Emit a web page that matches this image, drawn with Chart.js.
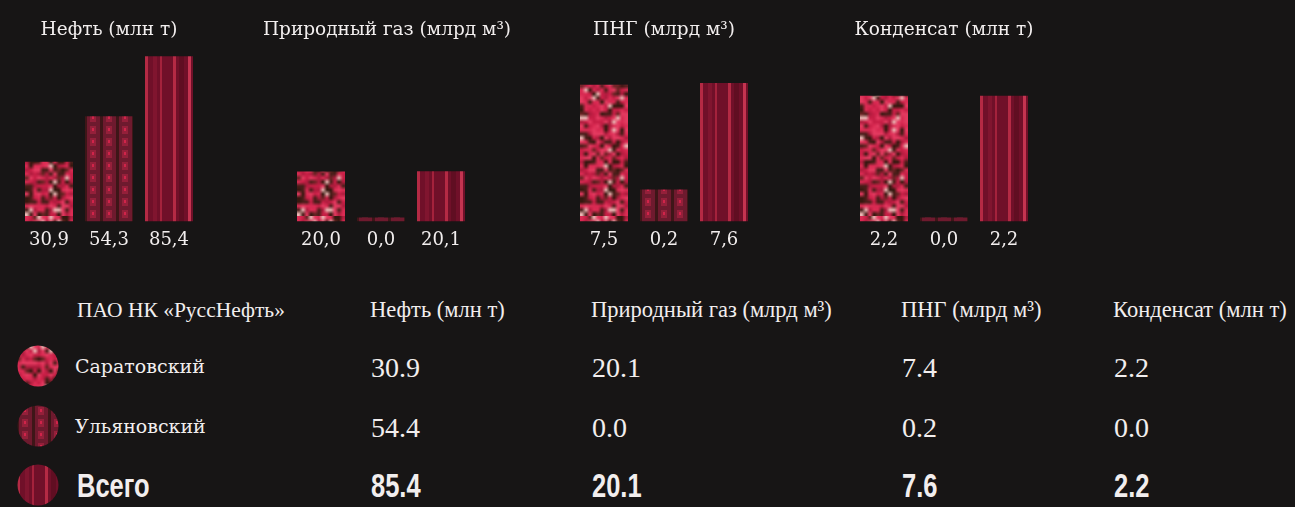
<!DOCTYPE html>
<html lang="ru">
  <head>
    <meta charset="UTF-8" />
    <title>РуссНефть — добыча</title>
    <script src="https://cdn.jsdelivr.net/npm/chart.js"></script>
    <style>
      html, body { margin: 0; padding: 0; }
      body {
        width: 1295px; height: 507px; overflow: hidden; position: relative;
        background: #171515; color: #f2eeee;
        font-family: "Liberation Serif", serif;
      }
      .box { position: absolute; top: 0; width: 300px; height: 260px; }
      .cell { position: absolute; white-space: nowrap; transform: translateY(-50%); transform-origin: 0 50%; }
      .head { font-size: 22.5px; }
      .company { font-size: 21.5px; }
      .name { font-family: "DejaVu Serif", serif; font-size: 19px; }
      .val { font-size: 28px; }
      .bold { font-family: "Liberation Sans", sans-serif; font-weight: bold; font-size: 34px;
              transform: translateY(-50%) scaleX(0.75); }
      canvas.dot { position: absolute; }
    </style>
  </head>
  <body>
    <div class="box" style="left:-41px"><canvas id="c0" width="300" height="260"></canvas></div>
    <div class="box" style="left:237px"><canvas id="c1" width="300" height="260"></canvas></div>
    <div class="box" style="left:514px"><canvas id="c2" width="300" height="260"></canvas></div>
    <div class="box" style="left:794px"><canvas id="c3" width="300" height="260"></canvas></div>
    <div id="table"></div>

    <script>
      // bar charts (values as printed under the bars)
      const titles = ["Нефть (млн т)", "Природный газ (млрд м³)", "ПНГ (млрд м³)", "Конденсат (млн т)"];
      const fields = ["Саратовский", "Ульяновский", "Всего"];
      const oil = [30.9, 54.3, 85.4];
      const gas = [20.0, 0.0, 20.1];
      const png = [7.5, 0.2, 7.6];
      const condensate = [2.2, 0.0, 2.2];
      const yMax = [88.5, 68.7, 9.4, 3.0];
      const minBar = [0, 4, 32, 4];

      // table below
      const tableCompany = "ПАО НК «РуссНефть»";
      const saratovRow = [30.9, 20.1, 7.4, 2.2];
      const ulyanovskRow = [54.4, 0.0, 0.2, 0.0];
      const totalRow = [85.4, 20.1, 7.6, 2.2];

      // --- textures ---
      function hash(x, y) {
        let h = (Math.imul(x, 374761393) + Math.imul(y, 668265263)) | 0;
        h = Math.imul(h ^ (h >>> 13), 1274126177);
        h ^= h >>> 16;
        return (h >>> 0) / 4294967296;
      }
      function tile(w, h, paint) {
        const c = document.createElement("canvas");
        c.width = w; c.height = h;
        paint(c.getContext("2d"), w, h);
        return c;
      }
      const blotch = tile(12, 44, (g) => {
        const cols = ["#dc2c54", "#c81f46", "#e43a60", "#b01c3e", "#d82a52", "#4a1e1a", "#34180f", "#6a2424", "#e9b8b4"];
        for (let y = 0; y < 44; y++)
          for (let x = 0; x < 12; x++) {
            const r = hash(x + 3, y + 7);
            let i = Math.floor(r * 8);
            if (r > 0.95) i = 8;
            g.fillStyle = cols[i];
            g.fillRect(x, y, 1, 1);
          }
      });
      const mottled = tile(48, 176, (g) => {
        g.imageSmoothingEnabled = true;
        g.drawImage(blotch, 0, 0, 48, 176);
      });
      const dotted = tile(16, 12, (g) => {
        g.fillStyle = "#6e1a2e"; g.fillRect(0, 0, 16, 12);
        g.fillStyle = "#3e1618"; g.fillRect(0, 0, 2, 12); g.fillRect(15, 0, 1, 12);
        g.fillStyle = "#94203a"; g.fillRect(5, 2, 6, 8);
        g.fillStyle = "#d0244a"; g.fillRect(7, 4, 2, 3);
      });
      const striped = tile(48, 8, (g) => {
        g.fillStyle = "#701029"; g.fillRect(0, 0, 48, 8);
        [[0, 3, "#b42a44"], [8, 4, "#80152f"], [15, 2, "#a4223c"], [28, 3, "#b42a44"], [34, 5, "#600e22"], [43, 3, "#c43450"]]
          .forEach(([x, w, c]) => { g.fillStyle = c; g.fillRect(x, 0, w, 8); });
      });
      const textures = [mottled, dotted, striped];

      function barFill(ctx) {
        const chart = ctx.chart;
        const x = chart.scales.x.getPixelForValue(ctx.dataIndex) - 24;
        const p = chart.ctx.createPattern(textures[ctx.dataIndex], "repeat");
        p.setTransform(new DOMMatrix().translate(x, 40));
        return p;
      }

      // invisible side axes that keep gutters so the title can be wider than the bars
      const gutter = (pos, w) => ({
        position: pos, min: 0, max: 1,
        grid: { display: false, drawTicks: false }, border: { display: false },
        ticks: { display: false },
        afterFit: (s) => { s.width = w; },
      });
      const gutters = [[60, 60], [54, 66], [60, 60], [60, 60]];

      const series = [oil, gas, png, condensate];
      series.forEach((vals, i) => {
        new Chart(document.getElementById("c" + i), {
          type: "bar",
          data: {
            labels: fields,
            datasets: [{ data: vals, backgroundColor: barFill, minBarLength: minBar[i],
                         barPercentage: 0.8, categoryPercentage: 1 }],
          },
          options: {
            responsive: false,
            animation: false,
            layout: { padding: { bottom: 1 } },
            plugins: {
              legend: { display: false },
              tooltip: { enabled: false },
              title: {
                display: true, text: titles[i], color: "#f2eeee",
                font: { family: "DejaVu Serif", size: 18.5, weight: "normal" },
                padding: { top: 19, bottom: 9 },
              },
            },
            scales: {
              x: {
                grid: { display: false, drawTicks: false }, border: { display: false },
                ticks: {
                  color: "#f2eeee", padding: 8,
                  font: { family: "DejaVu Serif", size: 18 },
                  callback: (v, idx) => vals[idx].toFixed(1).replace(".", ","),
                },
              },
              y: { ...gutter("left", gutters[i][0]), min: 0, max: yMax[i] },
              yR: gutter("right", gutters[i][1]),
            },
          },
        });
      });

      // --- table ---
      const table = document.getElementById("table");
      const colX = [370, 591, 901, 1113];
      const rowY = [366, 426, 485];
      function cell(text, x, y, cls) {
        const d = document.createElement("div");
        d.className = "cell " + cls;
        d.textContent = text;
        d.style.left = x + "px"; d.style.top = y + "px";
        table.appendChild(d);
      }
      cell(tableCompany, 77, 310, "company");
      titles.forEach((t, i) => cell(t, colX[i], 310, "head"));
      [saratovRow, ulyanovskRow, totalRow].forEach((row, r) => {
        const cls = r === 2 ? "bold" : "val";
        cell(fields[r], r === 2 ? 77 : 75, rowY[r], r === 2 ? "bold" : "name");
        row.forEach((v, i) => cell(v.toFixed(1), colX[i] + 1, rowY[r] + (r === 2 ? 0 : 2), cls));
        const c = document.createElement("canvas");
        c.className = "dot"; c.width = 42; c.height = 42;
        c.style.left = "17px"; c.style.top = (rowY[r] - 21) + "px";
        const g = c.getContext("2d");
        g.beginPath(); g.arc(21, 21, 20.5, 0, Math.PI * 2); g.clip();
        g.fillStyle = g.createPattern(textures[r], "repeat");
        g.fillRect(0, 0, 42, 42);
        table.appendChild(c);
      });
    </script>
  </body>
</html>
